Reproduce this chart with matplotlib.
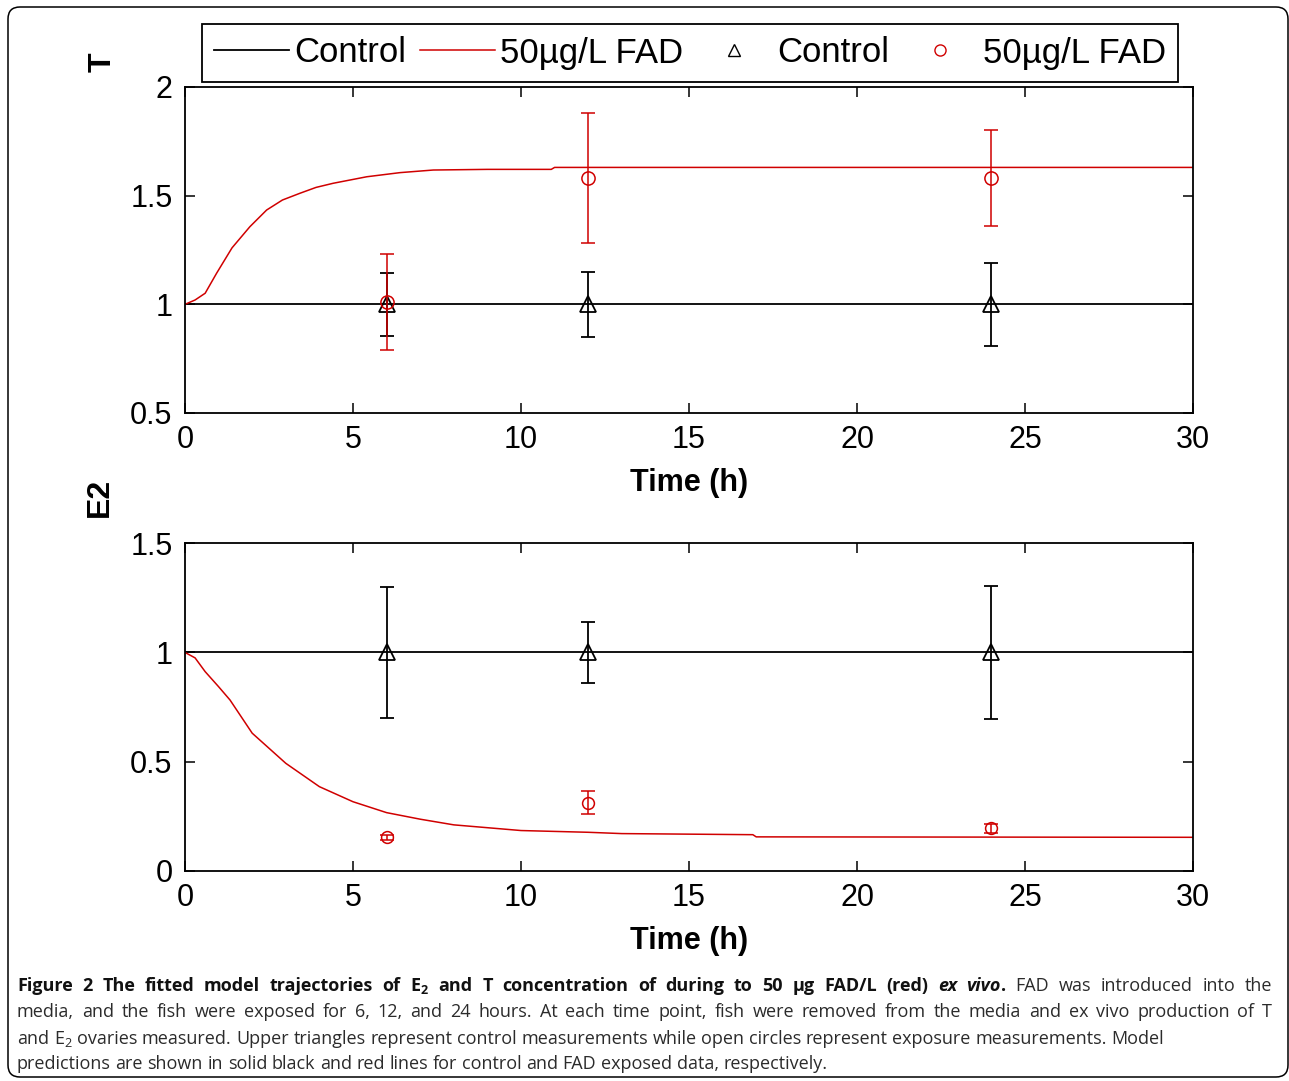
import matplotlib
matplotlib.use('Agg')
import matplotlib.pyplot as plt
import matplotlib.patches as mpatches
from matplotlib.lines import Line2D
from matplotlib.transforms import IdentityTransform
from matplotlib.ticker import FormatStrFormatter

plt.rcParams['font.family'] = 'Liberation Sans'
plt.rcParams['mathtext.fontset'] = 'custom'
plt.rcParams['mathtext.rm'] = 'Open Sans'
plt.rcParams['mathtext.bf'] = 'Open Sans:bold'
plt.rcParams['mathtext.it'] = 'Open Sans:italic'

W_PX, H_PX = 1289, 1081
RED = '#d00000'

# ── data ─────────────────────────────────────────────────────────────────────
time_pts = [6, 12, 24]

# T panel
T_ctrl_mean = [1.0, 1.0, 1.0]
T_ctrl_err = [0.145, 0.15, 0.19]
T_fad_mean = [1.01, 1.58, 1.58]
T_fad_err = [0.22, 0.30, 0.22]

# E2 panel
E2_ctrl_mean = [1.0, 1.0, 1.0]
E2_ctrl_err = [0.30, 0.14, 0.305]
E2_fad_mean = [0.153, 0.312, 0.194]
E2_fad_err = [0.012, 0.053, 0.02]

# model trajectories
ctrl_model_t = [0, 30]
ctrl_model = [1.0, 1.0]

T_model_t = [0, 0.3, 0.6, 0.94, 1.4, 1.93, 2.43, 2.9, 3.42, 3.9, 4.41,
             5.41, 6.4, 7.39, 9.0, 10.9, 11.0, 30]
T_model = [1.0, 1.02, 1.051, 1.143, 1.26, 1.357, 1.434, 1.48, 1.511, 1.538,
           1.557, 1.587, 1.606, 1.618, 1.621, 1.621, 1.63, 1.63]

E2_model_t = [0, 0.3, 0.6, 1.0, 1.34, 2.0, 3.0, 4.0, 5.0, 6.0, 7.0, 8.0,
              10.0, 12.0, 13.0, 16.9, 17.0, 30]
E2_model = [1.0, 0.975, 0.912, 0.843, 0.782, 0.63, 0.492, 0.385, 0.316,
            0.266, 0.236, 0.21, 0.184, 0.176, 0.17, 0.165, 0.155, 0.153]

x_ticks = [0, 5, 10, 15, 20, 25, 30]
T_yticks = [0.5, 1, 1.5, 2]
E2_yticks = [0, 0.5, 1, 1.5]

legend_labels = ['Control', '50\u00b5g/L FAD', 'Control', '50\u00b5g/L FAD']

caption_lines = [
    ([(r'Figure 2 The fitted model trajectories of E$_\mathbf{2}$ and T concentration '
       r'of during to 50 µg FAD/L (red) ', 'b'),
      ('ex vivo', 'bi'), ('.', 'b'), (' FAD was introduced into the', 'r')], True),
    ([('media, and the fish were exposed for 6, 12, and 24 hours. At each time point, '
       'fish were removed from the media and ex vivo production of T', 'r')], True),
    ([(r'and E$_\mathrm{2}$ ovaries measured. Upper triangles represent control '
       'measurements while open circles represent exposure measurements. Model', 'r')], False),
    ([('predictions are shown in solid black and red lines for control and FAD '
       'exposed data, respectively.', 'r')], False),
]


def fx(x):
    return x / W_PX


def fy(y):
    return 1 - y / H_PX


fig = plt.figure(figsize=(W_PX / 100, H_PX / 100), dpi=100)
fig.patch.set_facecolor('white')

# rounded frame around the figure panel
frame = mpatches.FancyBboxPatch((8 + 12, 4 + 12), 1280 - 24, 1070 - 24,
                                boxstyle='round,pad=12', transform=IdentityTransform(),
                                fc='none', ec='black', lw=1.1)
fig.patches.append(frame)

ax_T = fig.add_axes([fx(185), fy(413), fx(1193) - fx(185), fy(87) - fy(413)])
ax_E = fig.add_axes([fx(185), fy(870.7), fx(1193) - fx(185), fy(543.3) - fy(870.7)])


def draw_panel(ax, ctrl_mean, ctrl_err, fad_mean, fad_err, model_t, model, ylim, yticks,
               circle_ms):
    ax.plot(ctrl_model_t, ctrl_model, color='black', lw=1.3, zorder=2)
    ax.plot(model_t, model, color=RED, lw=1.1, zorder=2)
    ax.errorbar(time_pts, ctrl_mean, yerr=ctrl_err, fmt='^', mfc='none', mec='black',
                ms=12, mew=1.3, ecolor='black', elinewidth=1.3, capsize=5, capthick=1.3,
                zorder=3)
    ax.errorbar(time_pts, fad_mean, yerr=fad_err, fmt='o', mfc='none', mec=RED,
                ms=circle_ms, mew=1.1, ecolor=RED, elinewidth=1.1, capsize=5, capthick=1.1,
                zorder=4)
    ax.set_xlim(0, 30)
    ax.set_ylim(*ylim)
    ax.set_xticks(x_ticks)
    ax.set_yticks(yticks)
    ax.yaxis.set_major_formatter(FormatStrFormatter('%g'))
    ax.tick_params(direction='in', top=True, right=True, length=7, width=1.1,
                   labelsize=22, colors='black')
    ax.tick_params(axis='x', pad=9)
    ax.tick_params(axis='y', pad=9)
    for sp in ax.spines.values():
        sp.set_linewidth(1.3)
    ax.set_xlabel('Time (h)', fontsize=22, fontweight='bold', labelpad=9)


draw_panel(ax_T, T_ctrl_mean, T_ctrl_err, T_fad_mean, T_fad_err, T_model_t, T_model,
           (0.5, 2), T_yticks, 9.5)
draw_panel(ax_E, E2_ctrl_mean, E2_ctrl_err, E2_fad_mean, E2_fad_err, E2_model_t, E2_model,
           (0, 1.5), E2_yticks, 8.5)

fig.text(fx(103), fy(62), 'T', rotation=90, fontsize=23, fontweight='bold',
         ha='center', va='center')
fig.text(fx(100), fy(497), 'E2', rotation=90, fontsize=23, fontweight='bold',
         ha='center', va='center')

handles = [
    Line2D([], [], color='black', lw=1.3),
    Line2D([], [], color=RED, lw=1.1),
    Line2D([], [], ls='none', marker='^', mfc='none', mec='black', ms=8, mew=1.0),
    Line2D([], [], ls='none', marker='o', mfc='none', mec=RED, ms=8, mew=1.0),
]
leg = fig.legend(handles, legend_labels, loc='center', bbox_to_anchor=(fx(690), fy(53)),
                 ncol=4, fontsize=25, handlelength=2.15, handletextpad=0.15,
                 columnspacing=0.4, borderpad=0.35, borderaxespad=0,
                 fancybox=False, framealpha=1, edgecolor='black')
leg.get_frame().set_linewidth(1.3)

# ── caption, laid out word by word so the first lines can be justified ──────
STYLES = {'b': dict(fontweight='bold'), 'bi': dict(fontweight='bold', fontstyle='italic'),
          'r': dict(fontweight='normal')}
CAP_FS = 13
CAP_LEFT, CAP_RIGHT = 17, 1272
baselines = [991, 1017, 1044, 1069]
renderer = fig.canvas.get_renderer()


def split_words(runs):
    words = []
    glue = False
    for text, style in runs:
        for i, part in enumerate(text.split(' ')):
            if i > 0:
                glue = False
            if part == '':
                continue
            if glue and words:
                words[-1].append((part, style))
            else:
                words.append([(part, style)])
            glue = True
    return words


def make_text(s, style, y):
    color = '#111111' if style != 'r' else '#2b2b2b'
    return fig.text(0, fy(y), s, fontsize=CAP_FS, family='Open Sans', color=color,
                    va='baseline', ha='left', **STYLES[style])


def width_of(t):
    return t.get_window_extent(renderer).width


probe_a = make_text('aa', 'r', -50)
probe_b = make_text('a a', 'r', -50)
space_px = width_of(probe_b) - width_of(probe_a)
probe_a.remove()
probe_b.remove()

for (runs, justify), yb in zip(caption_lines, baselines):
    words = split_words(runs)
    placed = []
    for word in words:
        pieces = [make_text(s, st, yb) for s, st in word]
        widths = [width_of(p) for p in pieces]
        placed.append((pieces, widths))
    total = sum(sum(w) for _, w in placed)
    gap = space_px
    if justify and len(placed) > 1:
        gap = (CAP_RIGHT - CAP_LEFT - total) / (len(placed) - 1)
    x = CAP_LEFT
    for pieces, widths in placed:
        for p, w in zip(pieces, widths):
            p.set_x(fx(x))
            x += w
        x += gap

fig.savefig('out.png', dpi=100, facecolor='white')
